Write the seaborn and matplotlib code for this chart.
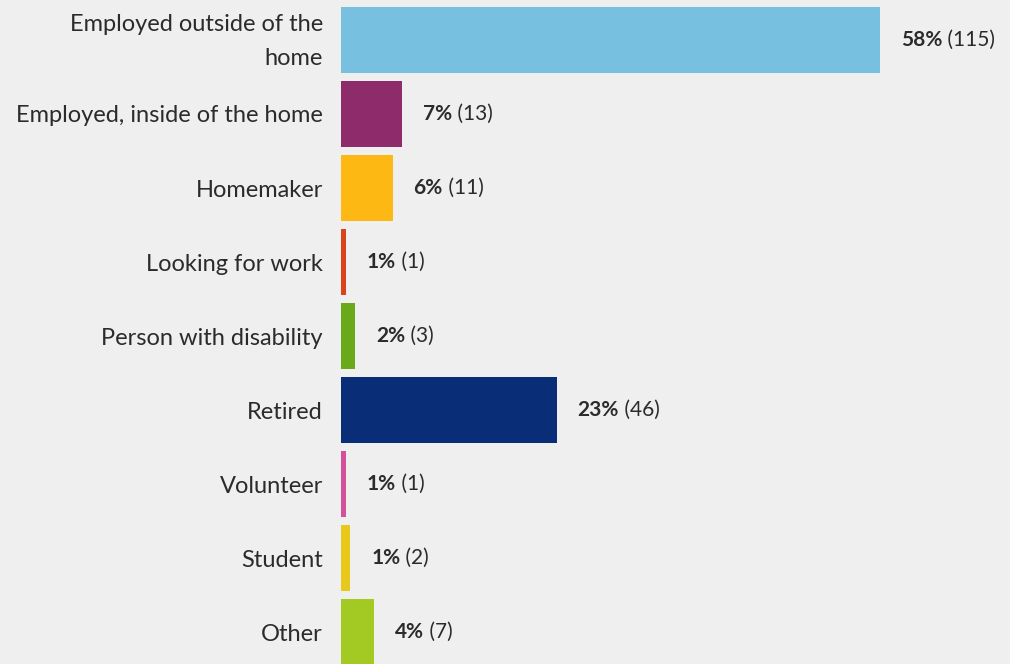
import numpy as np
import pandas as pd
import seaborn as sns
import matplotlib.pyplot as plt
from matplotlib.transforms import ScaledTranslation

# ---------------------------------------------------------
# Data
# ---------------------------------------------------------
categories = [
    "Employed outside of the\nhome",
    "Employed, inside of the home",
    "Homemaker",
    "Looking for work",
    "Person with disability",
    "Retired",
    "Volunteer",
    "Student",
    "Other",
]
counts = [115, 13, 11, 1, 3, 46, 1, 2, 7]
percents = [58, 7, 6, 1, 2, 23, 1, 1, 4]
bar_colors = ["#77c0e0", "#8e2c6b", "#fdb813", "#d9441c", "#6aaa1a",
              "#0a2d78", "#d4509a", "#e8c81a", "#a3c923"]

df = pd.DataFrame({"status": categories, "count": counts})

# ---------------------------------------------------------
# Plot
# ---------------------------------------------------------
sns.set_style("white")
plt.rcParams["font.family"] = ["Lato", "DejaVu Sans"]
bg = "#efefef"
text_col = "#2b2b2b"

fig = plt.figure(figsize=(10.1, 6.64), dpi=100, facecolor=bg)
ax = fig.add_axes([341 / 1010, 0, 669 / 1010, 1])
ax.set_facecolor(bg)

sns.barplot(data=df, y="status", x="count", hue="status", palette=bar_colors,
            orient="h", width=0.89, legend=False, ax=ax, saturation=1,
            linewidth=0)

ax.set_xlim(0, 142.7)
ax.set_ylim(8.43, -0.54)
ax.set_xlabel("")
ax.set_ylabel("")
ax.set_xticks([])
ax.tick_params(axis="y", length=0, pad=13, labelsize=17, labelcolor=text_col)
for lbl in ax.get_yticklabels():
    lbl.set_horizontalalignment("right")
    lbl.set_linespacing(1.75)
sns.despine(ax=ax, left=True, bottom=True)

# the wrapped first label sits a little higher in the original
first = ax.get_yticklabels()[0]
first.set_transform(first.get_transform()
                    + ScaledTranslation(0, 5 / 72, fig.dpi_scale_trans))

# value labels: bold percent followed by the count in brackets
for i, (c, p) in enumerate(zip(counts, percents)):
    t = ax.annotate(f"{p}%", xy=(c, i), xytext=(15, 0), textcoords="offset points",
                    va="center", ha="left", fontsize=15, fontweight="bold",
                    color=text_col)
    ax.annotate(f" ({c})", xy=(1, 0.5), xycoords=t, va="center", ha="left",
                fontsize=15, color=text_col)

fig.savefig("out.png", dpi=100, facecolor=bg)
